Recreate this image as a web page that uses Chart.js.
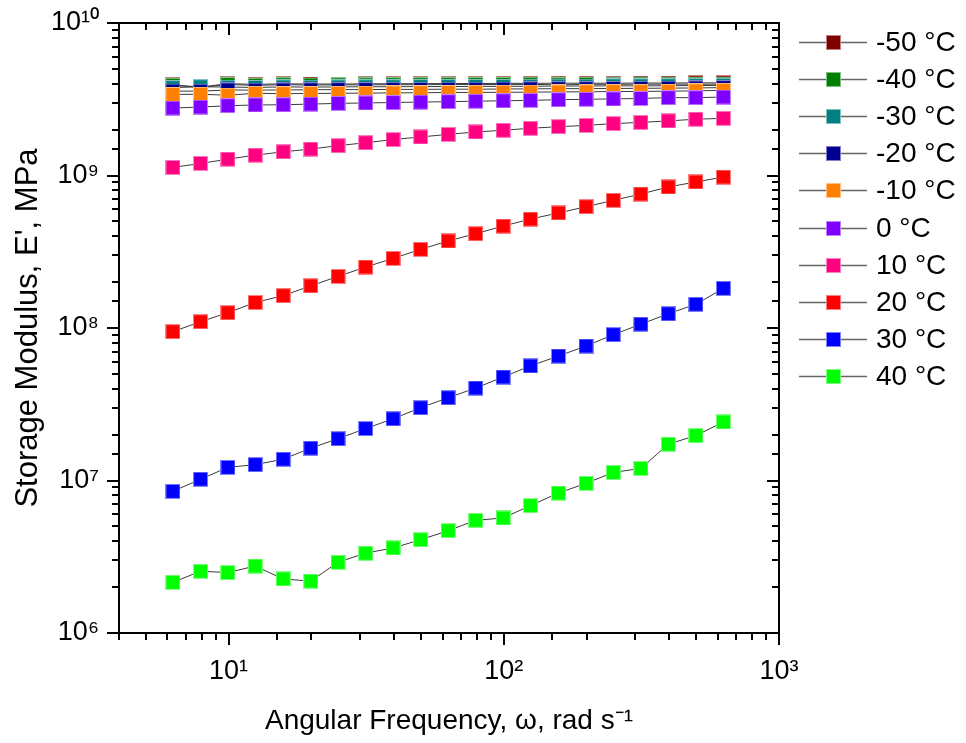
<!DOCTYPE html>
<html><head><meta charset="utf-8">
<script src="https://cdn.jsdelivr.net/npm/chart.js@4.4.1/dist/chart.umd.min.js"></script>
<style>html,body{margin:0;padding:0;background:#fff;overflow:hidden}</style>
</head><body>
<canvas id="c" width="966" height="743"></canvas>
<script>
// ---- data ----
const frequency = [6.28, 7.91, 9.95, 12.5, 15.8, 19.9, 25.0, 31.5, 39.6, 49.9, 62.8, 79.1, 99.5, 125, 158, 199, 250, 315, 396, 499, 628];

const seriesNames  = ['-50 °C', '-40 °C', '-30 °C', '-20 °C', '-10 °C', '0 °C', '10 °C', '20 °C', '30 °C', '40 °C'];
const seriesColors = ['#800000', '#008000', '#008080', '#000090', '#FF8000', '#8000FF', '#FF0080', '#FF0000', '#0000FF', '#00FF00'];

const E_m50 = [3.93e9,3.80e9,4.00e9,3.96e9,3.99e9,3.98e9,3.98e9,3.99e9,4.00e9,4.00e9,4.01e9,4.01e9,4.02e9,4.02e9,4.03e9,4.03e9,4.03e9,4.04e9,4.04e9,4.05e9,4.05e9];
const E_m40 = [3.90e9,3.78e9,3.95e9,3.90e9,3.94e9,3.92e9,3.93e9,3.93e9,3.94e9,3.94e9,3.95e9,3.95e9,3.95e9,3.96e9,3.93e9,3.96e9,3.96e9,3.97e9,3.97e9,3.97e9,3.97e9];
const E_m30 = [3.77e9,3.82e9,3.80e9,3.78e9,3.81e9,3.80e9,3.81e9,3.82e9,3.82e9,3.83e9,3.83e9,3.84e9,3.84e9,3.85e9,3.86e9,3.86e9,3.87e9,3.87e9,3.88e9,3.89e9,3.90e9];
const E_m20 = [3.58e9,3.57e9,3.64e9,3.63e9,3.64e9,3.65e9,3.66e9,3.66e9,3.67e9,3.67e9,3.68e9,3.68e9,3.69e9,3.70e9,3.71e9,3.71e9,3.72e9,3.73e9,3.74e9,3.75e9,3.77e9];
const E_m10 = [3.40e9,3.41e9,3.36e9,3.46e9,3.44e9,3.45e9,3.46e9,3.47e9,3.48e9,3.49e9,3.50e9,3.51e9,3.51e9,3.52e9,3.53e9,3.54e9,3.55e9,3.56e9,3.57e9,3.59e9,3.62e9];
const E_0   = [2.77e9,2.81e9,2.87e9,2.90e9,2.91e9,2.94e9,2.97e9,2.99e9,3.01e9,3.03e9,3.05e9,3.07e9,3.09e9,3.11e9,3.14e9,3.16e9,3.18e9,3.20e9,3.24e9,3.24e9,3.27e9];
const E_10  = [1.13e9,1.20e9,1.28e9,1.36e9,1.43e9,1.49e9,1.57e9,1.64e9,1.72e9,1.79e9,1.86e9,1.93e9,1.98e9,2.04e9,2.09e9,2.13e9,2.19e9,2.23e9,2.28e9,2.34e9,2.37e9];
const E_20  = [9.46e7,1.10e8,1.26e8,1.47e8,1.63e8,1.89e8,2.18e8,2.51e8,2.86e8,3.28e8,3.72e8,4.15e8,4.66e8,5.18e8,5.68e8,6.24e8,6.87e8,7.56e8,8.41e8,9.07e8,9.77e8];
const E_30  = [8.49e6,1.02e7,1.22e7,1.27e7,1.38e7,1.63e7,1.88e7,2.19e7,2.54e7,3.00e7,3.49e7,4.04e7,4.77e7,5.64e7,6.55e7,7.62e7,9.04e7,1.06e8,1.24e8,1.43e8,1.82e8];
const E_40  = [2.15e6,2.54e6,2.49e6,2.75e6,2.26e6,2.19e6,2.91e6,3.34e6,3.61e6,4.09e6,4.69e6,5.48e6,5.68e6,6.84e6,8.28e6,9.58e6,1.13e7,1.20e7,1.73e7,1.97e7,2.42e7];

const seriesValues = [E_m50, E_m40, E_m30, E_m20, E_m10, E_0, E_10, E_20, E_30, E_40];

const xTickValues = [10, 100, 1000];
const xTickLabels = ['10¹', '10²', '10³'];
const yTickValues = [1e6, 1e7, 1e8, 1e9, 1e10];
const yTickLabels = ['10⁶', '10⁷', '10⁸', '10⁹', '10¹⁰'];

const xTitle = 'Angular Frequency, ω, rad s⁻¹';
const yTitle = "Storage Modulus, E', MPa";

// ---- helpers ----
const FONT = "'Liberation Sans', Arial, sans-serif";

function tint(hex, f) {
  const n = parseInt(hex.slice(1), 16);
  const r = (n >> 16) & 255, g = (n >> 8) & 255, b = n & 255;
  const m = c => Math.round(c + (255 - c) * f);
  return `rgb(${m(r)},${m(g)},${m(b)})`;
}
function markerCanvas(color) {
  const c = document.createElement('canvas');
  c.width = 15; c.height = 15;
  const g = c.getContext('2d');
  g.fillStyle = tint(color, 0.5); g.fillRect(0, 0, 15, 15);
  g.fillStyle = color; g.fillRect(1, 1, 13, 13);
  return c;
}
function lookupLabel(values, labels, v) {
  for (let i = 0; i < values.length; i++) if (Math.abs(v - values[i]) < 1e-6 * values[i]) return labels[i];
  return '';
}
function isDecade(v) {
  const e = Math.round(Math.log10(v));
  return Math.abs(v - Math.pow(10, e)) < 1e-6 * v;
}

const datasets = seriesNames.map((name, i) => ({
  label: name,
  data: frequency.map((f, j) => ({ x: f, y: seriesValues[i][j] })),
  borderColor: '#3a3a3a',
  borderWidth: 1,
  backgroundColor: seriesColors[i],
  pointStyle: markerCanvas(seriesColors[i]),
  pointRadius: 7,
  pointHoverRadius: 7,
  fill: false,
  tension: 0,
  order: seriesNames.length - 1 - i
}));

// frame + tick marks drawn from the scales' own ticks
const frameTicks = {
  id: 'frameTicks',
  afterDraw(chart) {
    const { ctx, chartArea: a, scales } = chart;
    const x = scales.x, y = scales.y;
    ctx.save();
    ctx.strokeStyle = '#000';
    ctx.lineWidth = 2;
    ctx.beginPath();
    x.ticks.forEach(t => {
      const p = Math.round(x.getPixelForValue(t.value));
      if (p < a.left - 1 || p > a.right + 1) return;
      const L = isDecade(t.value) ? 12 : 7;
      ctx.moveTo(p, a.bottom); ctx.lineTo(p, a.bottom + L);
      ctx.moveTo(p, a.top); ctx.lineTo(p, a.top + L);
    });
    y.ticks.forEach(t => {
      const p = Math.round(y.getPixelForValue(t.value));
      if (p < a.top - 1 || p > a.bottom + 1) return;
      const L = isDecade(t.value) ? 12 : 7;
      ctx.moveTo(a.left - L, p); ctx.lineTo(a.left, p);
      ctx.moveTo(a.right, p); ctx.lineTo(a.right - L, p);
    });
    ctx.stroke();
    ctx.strokeRect(a.left, a.top, a.right - a.left, a.bottom - a.top);
    ctx.restore();
  }
};

// legend: line - square - line, then the label
const sideLegend = {
  id: 'sideLegend',
  afterDraw(chart) {
    const { ctx } = chart;
    ctx.save();
    chart.data.datasets.forEach((ds, i) => {
      const cy = Math.round(42 + 37.1 * i);
      ctx.strokeStyle = '#666';
      ctx.lineWidth = 1.5;
      ctx.beginPath();
      ctx.moveTo(799, cy + 0.5); ctx.lineTo(867, cy + 0.5);
      ctx.stroke();
      ctx.drawImage(ds.pointStyle, 826, cy - 7);
      ctx.fillStyle = '#000';
      ctx.font = `28px ${FONT}`;
      ctx.textBaseline = 'middle';
      ctx.textAlign = 'left';
      ctx.fillText(ds.label, 876, cy + 1);
    });
    ctx.restore();
  }
};

new Chart(document.getElementById('c'), {
  type: 'line',
  data: { datasets },
  options: {
    responsive: false,
    devicePixelRatio: 1,
    animation: false,
    layout: { padding: { left: 0, right: 187, top: 23, bottom: 0 } },
    plugins: { legend: { display: false }, tooltip: { enabled: false } },
    scales: {
      x: {
        type: 'logarithmic', position: 'bottom', min: 4, max: 1000,
        grid: { display: false, drawTicks: false },
        border: { display: false },
        ticks: {
          autoSkip: false, maxRotation: 0, minRotation: 0, padding: 22, color: '#000',
          font: { family: FONT, size: 27 },
          callback: v => lookupLabel(xTickValues, xTickLabels, v)
        },
        title: { display: true, text: xTitle, color: '#000', font: { family: FONT, size: 28 }, padding: { top: 0, bottom: 5 } },
        afterFit: s => { s.height = 110; s.paddingLeft = 0; s.paddingRight = 0; }
      },
      y: {
        type: 'logarithmic', position: 'left', min: 1e6, max: 1e10,
        grid: { display: false, drawTicks: false },
        border: { display: false },
        ticks: {
          autoSkip: false, padding: 20, color: '#000',
          font: { family: FONT, size: 27 },
          callback: v => lookupLabel(yTickValues, yTickLabels, v)
        },
        title: { display: true, text: yTitle, color: '#000', font: { family: FONT, size: 31 }, padding: { top: 10, bottom: 0 } },
        afterFit: s => { s.width = 119; s.paddingTop = 0; s.paddingBottom = 0; }
      }
    }
  },
  plugins: [frameTicks, sideLegend]
});
</script>
</body></html>
